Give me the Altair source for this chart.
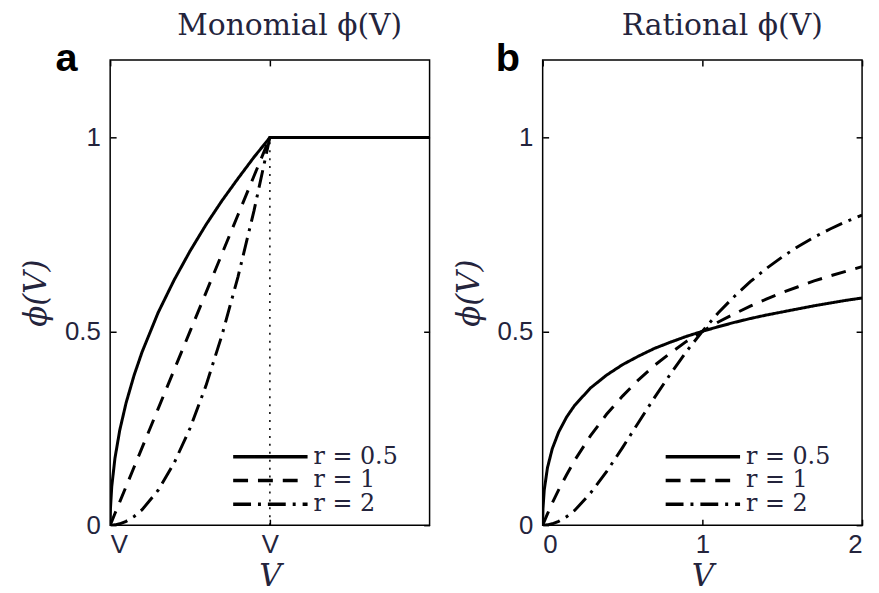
import altair as alt
import pandas as pd

R_LABELS = ["r = 0.5", "r = 1", "r = 2"]
DASHES = [[1, 0], [15, 10], [18, 7, 3, 7]]

# Panel a: monomial phi(V), saturating at V = 1
V_MONO = [0, 0.002, 0.01, 0.03, 0.06, 0.1, 0.15, 0.2, 0.3, 0.4, 0.5, 0.6, 0.7, 0.8, 0.9, 1.0, 2.0]
MONO_R05 = [0, 0.045, 0.10, 0.173, 0.245, 0.316, 0.387, 0.447, 0.548, 0.632, 0.707, 0.775, 0.837, 0.894, 0.949, 1.0, 1.0]
MONO_R1 = [0, 0.002, 0.01, 0.03, 0.06, 0.1, 0.15, 0.2, 0.3, 0.4, 0.5, 0.6, 0.7, 0.8, 0.9, 1.0, 1.0]
MONO_R2 = [0, 0.0, 0.0001, 0.0009, 0.0036, 0.01, 0.0225, 0.04, 0.09, 0.16, 0.25, 0.36, 0.49, 0.64, 0.81, 1.0, 1.0]

# Panel b: rational phi(V)
V_RAT = [0, 0.002, 0.01, 0.03, 0.06, 0.1, 0.15, 0.2, 0.3, 0.4, 0.5, 0.6, 0.7, 0.8, 0.9, 1.0,
         1.1, 1.2, 1.3, 1.4, 1.5, 1.6, 1.7, 1.8, 1.9, 2.0]
RAT_R05 = [0, 0.043, 0.091, 0.148, 0.197, 0.240, 0.279, 0.309, 0.354, 0.387, 0.414, 0.436, 0.456, 0.472, 0.487, 0.500,
           0.512, 0.523, 0.533, 0.542, 0.550, 0.558, 0.566, 0.573, 0.580, 0.586]
RAT_R1 = [0, 0.002, 0.0099, 0.029, 0.057, 0.091, 0.130, 0.167, 0.231, 0.286, 0.333, 0.375, 0.412, 0.444, 0.474, 0.500,
          0.524, 0.545, 0.565, 0.583, 0.600, 0.615, 0.630, 0.643, 0.655, 0.667]
RAT_R2 = [0, 0.0, 0.0001, 0.0009, 0.0036, 0.0099, 0.022, 0.038, 0.083, 0.138, 0.200, 0.265, 0.329, 0.390, 0.448, 0.500,
          0.548, 0.590, 0.628, 0.662, 0.692, 0.719, 0.743, 0.764, 0.783, 0.800]

THRESH_V = [1.0]
THRESH_LO = [0.0]
THRESH_HI = [1.0]

Y_TICKS = [0, 0.5, 1]

TEXT_COLOR = "#24243c"


def long_df(v, series):
    rows = []
    for lab, vals in zip(R_LABELS, series):
        for x, y in zip(v, vals):
            rows.append({"V": x, "phi": y, "r": lab})
    return pd.DataFrame(rows)


def panel(df, title, letter, xticks, xlabel_expr, letter_dx, with_rule):
    xscale = alt.Scale(domain=[0, 2], nice=False, zero=False)
    yscale = alt.Scale(domain=[0, 1.2], nice=False, zero=False)
    lines = alt.Chart(df).mark_line(color="black", strokeWidth=3, clip=True).encode(
        x=alt.X("V:Q", scale=xscale,
                axis=alt.Axis(values=xticks, labelExpr=xlabel_expr, format=".2~f", title="V",
                              orient="bottom", labelPadding=7, titlePadding=4)),
        y=alt.Y("phi:Q", scale=yscale,
                axis=alt.Axis(values=Y_TICKS, format=".2~f", title="ϕ(V)", orient="left",
                              labelPadding=10, titlePadding=12)),
        strokeDash=alt.StrokeDash(
            "r:N",
            scale=alt.Scale(domain=R_LABELS, range=DASHES),
            legend=alt.Legend(
                title=None, orient="none", legendX=122, legendY=388, padding=0,
                symbolType="M-1,0H6.5", symbolSize=400, symbolStrokeWidth=3.5,
                symbolStrokeColor="black", symbolFillColor="transparent",
                labelFont="DejaVu Serif", labelFontSize=24,
                labelColor=TEXT_COLOR, rowPadding=-6, labelOffset=59,
            ),
        ),
        order="V:Q",
    )
    label = alt.Chart(pd.DataFrame({"t": [letter]})).mark_text(
        font="Liberation Sans", fontSize=40, fontWeight="bold", color="black",
        align="center", baseline="alphabetic",
    ).encode(text="t:N", x=alt.value(letter_dx), y=alt.value(11))
    layers = [lines]
    if with_rule:
        rule_df = pd.DataFrame({"V": THRESH_V, "phi": THRESH_LO, "phi2": THRESH_HI})
        rule = alt.Chart(rule_df).mark_rule(color="black", strokeWidth=1.5, strokeDash=[2, 6]).encode(
            x="V:Q", y="phi:Q", y2="phi2:Q")
        layers.append(rule)
    layers.append(label)
    inner = alt.layer(*layers)
    mirror = alt.Chart(df).mark_point(opacity=0).encode(
        x=alt.X("V:Q", scale=xscale,
                axis=alt.Axis(values=xticks, orient="top", labels=False, title=None)),
        y=alt.Y("phi:Q", scale=yscale,
                axis=alt.Axis(values=Y_TICKS, orient="right", labels=False, title=None)),
    )
    return alt.layer(inner, mirror).resolve_axis(x="independent", y="independent").properties(
        width=322, height=469,
        title=alt.TitleParams(title, font="DejaVu Serif", fontSize=30, fontWeight="normal",
                              color=TEXT_COLOR, offset=-2, dx=20, frame="group"),
    )


df_a = long_df(V_MONO, [MONO_R05, MONO_R1, MONO_R2])
df_b = long_df(V_RAT, [RAT_R05, RAT_R1, RAT_R2])

pa = panel(df_a, "Monomial ϕ(V)", "a", [0, 1], "'V'", -44, True)
pb = panel(df_b, "Rational ϕ(V)", "b", [0, 1, 2], "datum.label", -35, False)

chart = alt.hconcat(pa, pb, spacing=19).resolve_legend(strokeDash="independent").properties(
    padding={"left": 12, "top": 0, "right": 5, "bottom": 0}
).configure_view(stroke="black", strokeWidth=1.5).configure_axis(
    domain=False, grid=False, offset=-6, tickSize=6, tickWidth=1.5, tickColor="black",
    labelFont="Liberation Sans", labelFontSize=26, labelColor=TEXT_COLOR,
    titleFont="DejaVu Serif", titleFontStyle="italic", titleFontWeight="normal",
    titleFontSize=31, titleColor=TEXT_COLOR,
)

chart.save("out.html", embed_options={"renderer": "svg", "actions": False})
